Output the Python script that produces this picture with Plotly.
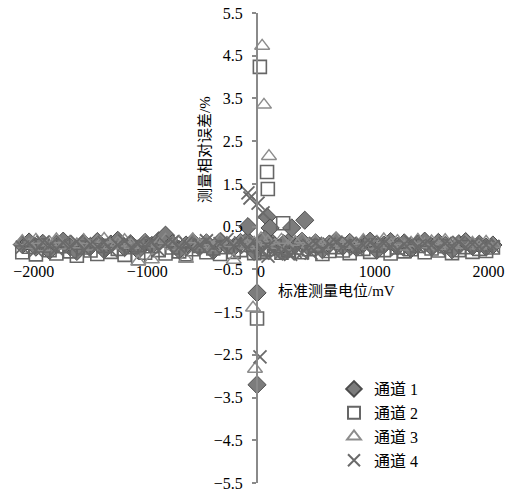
import plotly.graph_objects as go

# ---------------- data ----------------
band_x = [-2100, -2040, -1980, -1920, -1860, -1800, -1740, -1680, -1620, -1560,
          -1500, -1440, -1380, -1320, -1260, -1200, -1140, -1080, -1020, -960,
          -900, -840, -780, -720, -660, -600, -540, -480, -420, -360,
          -300, -240, -180, -120, -60, 0, 60, 120, 180, 240,
          300, 360, 420, 480, 540, 600, 660, 720, 780, 840,
          900, 960, 1020, 1080, 1140, 1200, 1260, 1320, 1380, 1440,
          1500, 1560, 1620, 1680, 1740, 1800, 1860, 1920, 1980, 2040]

ch1_band = [0.08, 0.14, 0.02, 0.11, -0.06, 0.09, 0.16, 0.03, -0.08, 0.12,
            0.04, 0.15, -0.04, 0.09, 0.18, 0.01, 0.08, -0.05, 0.13, 0.06,
            0.17, 0.30, 0.10, -0.04, 0.07, 0.14, 0.03, 0.12, -0.06, 0.15,
            0.06, 0.02, 0.13, 0.18, -0.08, 0.10, 0.22, 0.05, -0.05, 0.13,
            0.07, 0.16, 0.02, 0.12, -0.04, 0.09, 0.17, 0.04, 0.13, 0.01,
            0.10, 0.16, -0.05, 0.07, 0.15, 0.04, 0.12, -0.02, 0.09, 0.16,
            0.03, 0.13, 0.06, -0.04, 0.10, 0.15, 0.04, 0.09, 0.02, 0.07]
ch2_band = [-0.10, 0.03, -0.15, 0.06, -0.05, -0.13, 0.04, -0.08, -0.18, 0.01,
            -0.06, -0.14, 0.05, -0.09, -0.02, -0.16, 0.02, -0.24, -0.11, 0.04,
            -0.05, -0.13, 0.01, -0.08, -0.15, -0.03, 0.05, -0.10, -0.01, -0.14,
            0.02, -0.09, -0.05, 0.07, -0.12, -0.06, -0.02, 0.04, -0.11, -0.05,
            0.01, -0.10, -0.03, 0.05, -0.14, -0.07, 0.02, -0.06, -0.12, 0.04,
            -0.02, -0.09, 0.06, -0.05, -0.13, 0.01, -0.08, -0.03, 0.05, -0.10,
            -0.01, -0.06, 0.04, -0.12, -0.05, 0.02, -0.09, -0.02, -0.07, 0.01]
ch3_band = [0.16, 0.07, 0.19, 0.02, 0.13, 0.20, 0.05, 0.14, 0.08, 0.18,
            0.03, 0.15, 0.21, 0.06, 0.12, 0.18, 0.07, -0.32, 0.16, -0.27,
            0.10, 0.19, 0.04, 0.14, -0.26, 0.20, 0.08, 0.15, 0.02, 0.18,
            0.11, -0.28, 0.16, 0.06, 0.12, 0.22, 0.15, 0.07, 0.19, 0.03,
            0.14, 0.20, 0.08, 0.16, 0.04, 0.12, 0.21, 0.07, 0.15, 0.10,
            0.18, 0.05, 0.14, 0.20, 0.09, 0.16, 0.03, 0.12, 0.19, 0.08,
            0.15, 0.04, 0.18, 0.10, 0.07, 0.16, 0.12, 0.05, 0.14, 0.09]
ch4_band = [0.02, 0.10, -0.05, 0.14, 0.06, -0.02, 0.12, 0.04, 0.15, -0.04,
            0.09, 0.03, 0.13, -0.06, 0.07, 0.16, 0.01, 0.10, 0.04, 0.14,
            -0.05, 0.09, 0.15, 0.02, 0.11, -0.02, 0.07, 0.17, 0.03, 0.10,
            0.20, 0.05, 0.12, 0.02, 0.15, -0.07, 0.03, -0.12, -0.10, -0.14,
            -0.08, -0.12, 0.06, 0.11, -0.03, 0.09, 0.14, 0.03, 0.10, -0.02,
            0.07, 0.13, 0.02, 0.11, 0.04, -0.04, 0.09, 0.14, 0.03, 0.10,
            0.06, -0.02, 0.11, 0.04, 0.13, 0.02, 0.09, 0.03, 0.07, 0.04]

ch1_spike_x = [-35, -35, -115, 53, 80, 270, 385, 35, 200]
ch1_spike_y = [-3.2, -1.05, 0.5, 0.73, 0.47, 0.47, 0.65, 0.2, 0.1]
ch2_spike_x = [-10, 53, 60, 195, -35, 20]
ch2_spike_y = [4.24, 1.78, 1.38, 0.58, -1.65, -0.1]
ch3_spike_x = [10, 26, 70, -53, -70]
ch3_spike_y = [4.73, 3.35, 2.15, -2.83, -1.4]
ch4_spike_x = [-115, -97, -26, 18, -9, 62, 260, 440]
ch4_spike_y = [1.29, 1.17, 1.05, 0.82, -2.55, -0.19, -0.15, -0.12]

names = ["通道 1", "通道 2", "通道 3", "通道 4"]
x_tickvals = [-2000, -1000, 0, 1000, 2000]
x_ticktext = ["\u22122000", "\u22121000", "0", "1000", "2000"]
y_tickvals = [5.5, 4.5, 3.5, 2.5, 1.5, 0.5, -0.5, -1.5, -2.5, -3.5, -4.5, -5.5]
y_ticktext = ["5.5", "4.5", "3.5", "2.5", "1.5", "0.5", "\u22120.5", "\u22121.5",
              "\u22122.5", "\u22123.5", "\u22124.5", "\u22125.5"]

# ---------------- figure ----------------
fig = go.Figure()
series = [
    (band_x + ch1_spike_x, ch1_band + ch1_spike_y,
     dict(symbol="diamond", size=14, color="#7c7c7c", line=dict(color="#4c4c4c", width=1))),
    (band_x + ch2_spike_x, ch2_band + ch2_spike_y,
     dict(symbol="square-open", size=13, color="#666666", line=dict(width=1.6))),
    (band_x + ch3_spike_x, ch3_band + ch3_spike_y,
     dict(symbol="triangle-up-open", size=13, color="#8c8c8c", line=dict(width=1.5))),
    (band_x + ch4_spike_x, ch4_band + ch4_spike_y,
     dict(symbol="x-thin-open", size=13, color="#6a6a6a", line=dict(color="#6a6a6a", width=1.8))),
]
for (xs, ys, mk), nm in zip(series, names):
    fig.add_trace(go.Scatter(x=xs, y=ys, mode="markers", name=nm, marker=mk))

W, H = 521, 494
ml, mr, mt, mb = 10, 10, 13, 11
pw, ph = W - ml - mr, H - mt - mb

def px_x(p):
    return (p - ml) / pw

def px_y(p):
    return 1 - (p - mt) / ph

tick_font = dict(family="Liberation Serif, Times New Roman, serif", size=16, color="black")
cjk_font = dict(family="Liberation Serif, Noto Sans CJK SC, serif", size=15, color="black")

fig.update_layout(
    width=W, height=H,
    margin=dict(l=ml, r=mr, t=mt, b=mb, autoexpand=False),
    paper_bgcolor="white", plot_bgcolor="white",
    showlegend=True,
    xaxis=dict(range=[-2208, 2199], anchor="free", position=0.5, automargin=False,
               tickvals=x_tickvals, ticktext=x_ticktext, tickfont=tick_font,
               showgrid=False, zeroline=False, showline=False, ticks="",
               ticklabelstandoff=12),
    yaxis=dict(range=[-5.5, 5.5], anchor="free", position=px_x(257), automargin=False,
               tickvals=y_tickvals, ticktext=y_ticktext, tickfont=tick_font,
               showgrid=False, zeroline=False, showline=True,
               linecolor="#8a8a8a", linewidth=2,
               ticks="outside", ticklen=4, tickwidth=2, tickcolor="#8a8a8a",
               ticklabelstandoff=6),
    legend=dict(x=px_x(334), y=px_y(372), xanchor="left", yanchor="top",
                font=dict(family="Liberation Serif, Noto Sans CJK SC, serif", size=16, color="black"),
                bgcolor="rgba(0,0,0,0)", tracegroupgap=0, itemsizing="constant"),
    annotations=[
        dict(text="测量相对误差/%", xref="paper", yref="paper",
             x=px_x(205), y=px_y(150), showarrow=False, textangle=-90,
             font=cjk_font, xanchor="center", yanchor="middle"),
        dict(text="标准测量电位/mV", xref="paper", yref="paper",
             x=px_x(276), y=px_y(291), showarrow=False,
             font=cjk_font, xanchor="left", yanchor="middle"),
    ],
)

fig.write_html("out.html", config={"displayModeBar": False},
               post_script="document.body.style.margin='0px';document.body.style.overflow='hidden';")
